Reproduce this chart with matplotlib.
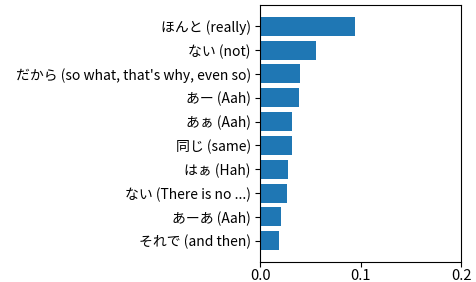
import matplotlib
matplotlib.use('Agg')
import matplotlib.pyplot as plt

plt.rcParams['font.family'] = ['Noto Sans CJK JP', 'DejaVu Sans']

labels = ['ほんと (really)', 'ない (not)', "だから (so what, that's why, even so)",
          'あー (Aah)', 'あぁ (Aah)', '同じ (same)', 'はぁ (Hah)',
          'ない (There is no ...)', 'あーあ (Aah)', 'それで (and then)']
values = [0.094, 0.055, 0.0396, 0.0386, 0.0316, 0.0316, 0.0276, 0.0266, 0.0206, 0.0186]

fig, ax = plt.subplots(figsize=(4.76, 2.82), dpi=100)
fig.subplots_adjust(left=0.547, right=0.9685, top=0.982, bottom=0.071)

ax.barh(labels, values, color='#1f77b4')
ax.invert_yaxis()
ax.set_xlim(0, 0.2)
ax.set_xticks([0.0, 0.1, 0.2])
ax.tick_params(axis='y', labelsize=10)
ax.tick_params(axis='x', labelsize=10.5, pad=1.5)

plt.savefig('out.png', dpi=100)
